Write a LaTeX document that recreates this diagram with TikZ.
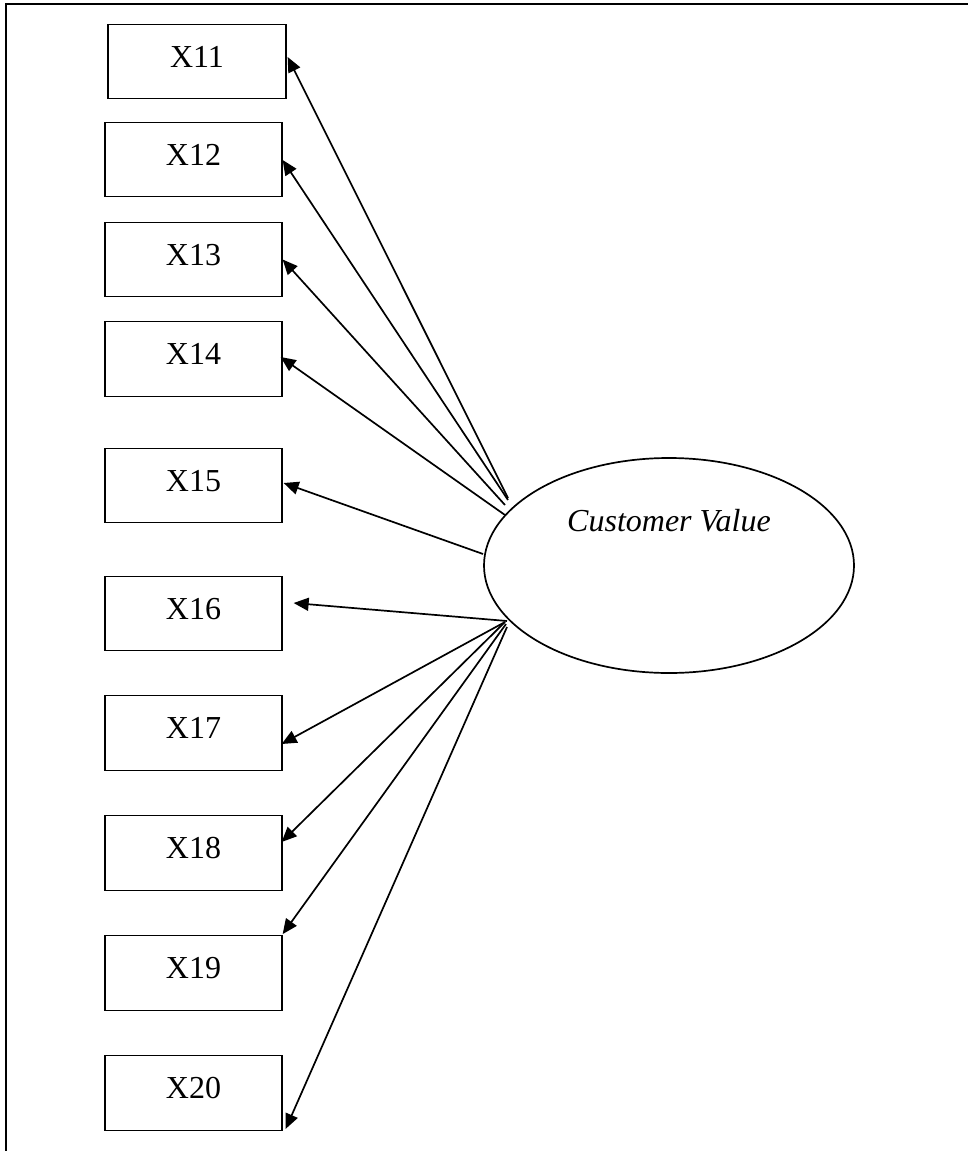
\documentclass[tikz,border=0pt]{standalone}
\usepackage{fontspec}
\setmainfont{Liberation Serif}
\usetikzlibrary{arrows.meta,shapes.geometric,calc}

\begin{document}
\begin{tikzpicture}[x=1pt,y=-1pt,
  indicator/.style={draw=black, line width=1.3pt, rectangle, inner sep=0pt,
    minimum width=177pt, minimum height=74.5pt,
    font=\fontsize{32}{32}\selectfont, text height=22pt, text depth=11pt},
  latent/.style={draw=black, line width=1.7pt, ellipse, inner sep=0pt,
    minimum width=370pt, minimum height=215pt},
  load/.style={draw=black, line width=1.7pt, -{Triangle[length=15pt,width=13pt]}},
  frameline/.style={draw=black, line width=1.8pt}]

\useasboundingbox (0,0) rectangle (968,1151);
\fill[white] (0,0) rectangle (968,1151);

% page frame (top and left edges)
\coordinate (fbl) at (5.8,1151);
\coordinate (ftl) at (5.8,4.2);
\coordinate (ftr) at (968,4.2);
\draw[frameline] (fbl) -- (ftl) -- (ftr);

% observed indicators
\node[indicator, minimum width=178pt] (x11) at (197,61.5) {X11};
\node[indicator] (x12) at (193.5,159.5) {X12};
\node[indicator] (x13) at (193.5,259.5) {X13};
\node[indicator] (x14) at (193.5,359) {X14};
\node[indicator] (x15) at (193.5,485.5) {X15};
\node[indicator] (x16) at (193.5,613.5) {X16};
\node[indicator] (x17) at (193.5,733) {X17};
\node[indicator] (x18) at (193.5,853) {X18};
\node[indicator] (x19) at (193.5,973) {X19};
\node[indicator] (x20) at (193.5,1093) {X20};

% latent construct
\node[latent] (cv) at (669,565.5) {};
\node[font=\fontsize{32}{32}\selectfont\itshape, anchor=base, inner sep=0pt] (cvlabel) at (669,531) {Customer Value};

% loadings
\draw[load] ($(cv.center)+(-161,-67.5)$) -- ($(x11.east)+(1,-4.5)$);
\draw[load] ($(cv.center)+(-161,-65.5)$) -- ($(x12.east)+(0,0.5)$);
\draw[load] ($(cv.center)+(-164,-60.5)$) -- (x13.east);
\draw[load] ($(cv.center)+(-164,-50.5)$) -- ($(x14.east)+(-2,-2)$);
\draw[load] ($(cv.center)+(-186,-11.5)$) -- ($(x15.east)+(1,-2.5)$);
\draw[load] ($(cv.center)+(-162,55.5)$) -- ($(x16.east)+(11,-10.5)$);
\draw[load] ($(cv.center)+(-164,56.5)$) -- ($(x17.east)+(-1,11)$);
\draw[load] ($(cv.center)+(-164,56.5)$) -- ($(x18.east)+(-1,-11)$);
\draw[load] ($(cv.center)+(-163,58.5)$) -- ($(x19.north east)+(0,-1)$);
\draw[load] ($(cv.center)+(-162,61.5)$) -- ($(x20.south east)+(3,-2)$);

\end{tikzpicture}
\end{document}
